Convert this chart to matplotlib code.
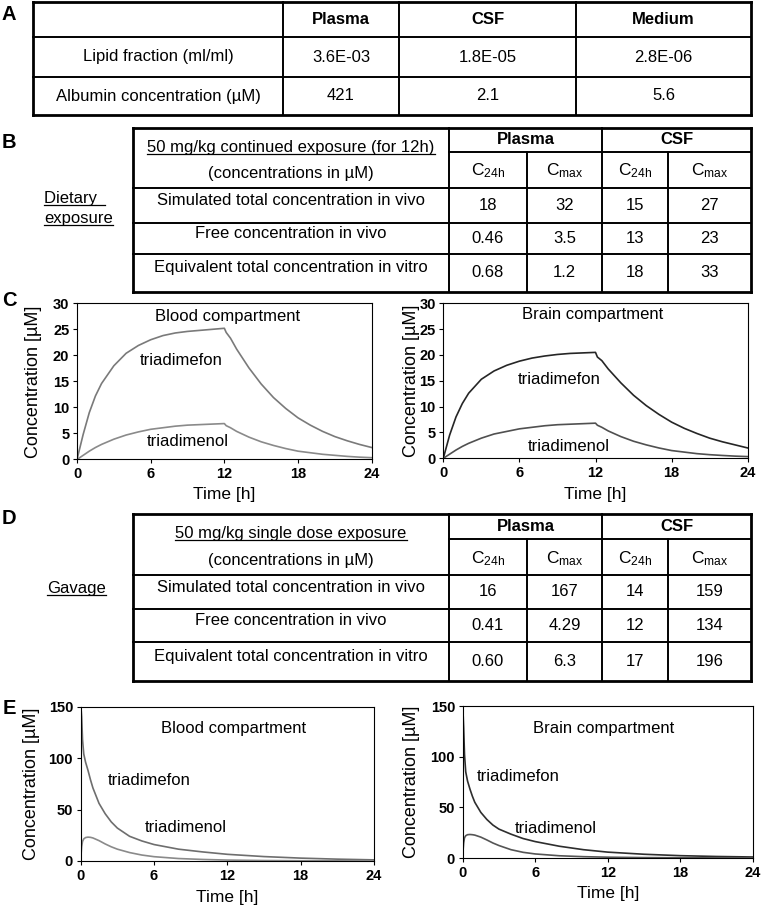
import matplotlib
matplotlib.use('Agg')
import matplotlib.pyplot as plt

plt.rcParams['font.family'] = ['Liberation Sans', 'DejaVu Sans']
plt.rcParams['mathtext.fontset'] = 'custom'
plt.rcParams['mathtext.rm'] = 'Liberation Sans'
plt.rcParams['mathtext.it'] = 'Liberation Sans:italic'
plt.rcParams['mathtext.bf'] = 'Liberation Sans:bold'

W, H = 761, 908

# ---- table A
a_cols = ['Plasma', 'CSF', 'Medium']
a_rows = ['Lipid fraction (ml/ml)', 'Albumin concentration (µM)']
a_vals = [['3.6E-03', '1.8E-05', '2.8E-06'],
          ['421', '2.1', '5.6']]

# ---- tables B and D
bd_groups = ['Plasma', 'CSF']
bd_sub = [r'C$_{\mathrm{24h}}$', r'C$_{\mathrm{max}}$', r'C$_{\mathrm{24h}}$', r'C$_{\mathrm{max}}$']
bd_unit = '(concentrations in µM)'
bd_rows = ['Simulated total concentration in vivo',
           'Free concentration in vivo',
           'Equivalent total concentration in vitro']
b_title = '50 mg/kg continued exposure (for 12h)'
b_side = ['Dietary ', 'exposure']
b_vals = [['18', '32', '15', '27'],
          ['0.46', '3.5', '13', '23'],
          ['0.68', '1.2', '18', '33']]
d_title = '50 mg/kg single dose exposure'
d_side = ['Gavage']
d_vals = [['16', '167', '14', '159'],
          ['0.41', '4.29', '12', '134'],
          ['0.60', '6.3', '17', '196']]

# ---- C: 12 h continued exposure
c_time = [0, 0.5, 1, 1.5, 2, 3, 4, 5, 6, 7, 8, 9, 10, 11, 12, 12.15, 12.5, 13,
          14, 15, 16, 17, 18, 19, 20, 21, 22, 23, 24]
c_blood_fon = [0, 4.8, 9.0, 12.2, 14.6, 18.0, 20.4, 21.9, 23.0, 23.8, 24.3, 24.6, 24.8,
               25.0, 25.2, 24.4, 23.3, 21.2, 17.6, 14.5, 11.9, 9.8, 8.0, 6.6, 5.4, 4.4,
               3.6, 2.9, 2.3]
c_blood_nol = [0, 0.8, 1.6, 2.3, 2.9, 3.9, 4.7, 5.3, 5.8, 6.1, 6.4, 6.6, 6.7, 6.8, 6.9,
               6.5, 6.1, 5.4, 4.3, 3.4, 2.7, 2.1, 1.6, 1.3, 1.0, 0.8, 0.6, 0.45, 0.35]
c_brain_fon = [0, 4.5, 8.0, 10.6, 12.6, 15.3, 16.9, 18.0, 18.8, 19.4, 19.8, 20.1, 20.3,
               20.4, 20.5, 19.6, 18.9, 17.3, 14.6, 12.2, 10.2, 8.5, 7.0, 5.8, 4.8, 3.9,
               3.2, 2.6, 2.0]
c_brain_nol = [0, 0.8, 1.6, 2.3, 2.9, 3.9, 4.7, 5.2, 5.7, 6.0, 6.3, 6.5, 6.6, 6.7, 6.8,
               6.4, 6.0, 5.3, 4.2, 3.3, 2.6, 2.0, 1.5, 1.2, 0.9, 0.7, 0.55, 0.42, 0.33]

# ---- E: single gavage dose
e_time = [0, 0.04, 0.08, 0.15, 0.25, 0.4, 0.6, 0.8, 1, 1.5, 2, 2.5, 3, 4, 5, 6, 8, 10,
          12, 15, 18, 21, 24]
e_blood_fon = [0, 146, 140, 118, 104, 96, 88, 79, 71, 56, 46, 38, 32, 24, 19.5, 16,
               11.5, 8.8, 6.5, 4.3, 2.8, 1.8, 1.1]
e_blood_nol = [0, 8, 14, 19, 21.5, 22.8, 23.2, 23.0, 22.4, 19.8, 16.6, 13.8, 11.5, 8.2,
               5.8, 4.2, 2.4, 1.5, 0.9, 0.45, 0.25, 0.15, 0.1]
e_brain_fon = [0, 140, 128, 102, 85, 76, 68, 61, 55, 45, 38, 32.5, 28.5, 23.5, 19.2,
               16.2, 11.6, 8.2, 5.8, 3.7, 2.3, 1.5, 1.0]
e_brain_nol = [0, 9, 15, 20, 22, 23, 23.2, 23.0, 22.6, 20.6, 17.8, 14.8, 12.3, 8.2, 5.6,
               4.0, 2.2, 1.3, 0.8, 0.4, 0.22, 0.13, 0.08]

time_ticks = [0, 6, 12, 18, 24]

fig = plt.figure(figsize=(W / 100, H / 100), dpi=100)
bg = fig.add_axes([0, 0, 1, 1])
bg.set_xlim(0, W)
bg.set_ylim(H, 0)
bg.axis('off')

OUT = 2.0   # outer frame width (pt)
INN = 1.4   # inner grid width (pt)
FS = 12


def hl(y, x0, x1, lw=INN):
    bg.plot([x0, x1], [y, y], color='black', lw=lw, solid_capstyle='projecting')


def vl(x, y0, y1, lw=INN):
    bg.plot([x, x], [y0, y1], color='black', lw=lw, solid_capstyle='projecting')


def box(x0, y0, x1, y1):
    hl(y0, x0, x1, OUT)
    hl(y1, x0, x1, OUT)
    vl(x0, y0, y1, OUT)
    vl(x1, y0, y1, OUT)


def underlined(x, y, s, ha='center', extra=0):
    # y is the text centre; text is put on its baseline and underlined just below
    t = bg.text(x, y + 6, s, ha=ha, va='baseline', fontsize=FS)
    bb = t.get_window_extent(renderer=fig.canvas.get_renderer())
    x0 = bg.transData.inverted().transform((bb.x0, 0))[0]
    x1 = bg.transData.inverted().transform((bb.x1, 0))[0]
    bg.plot([x0, x1 + extra], [y + 8, y + 8], color='black', lw=0.9)


# panel letters
for letter, ly in zip('ABCDE', [14, 143, 300, 518, 708]):
    bg.text(9, ly, letter, fontsize=14.5, fontweight='bold', ha='center', va='center')

# ---------------- table A
axs = [33, 283, 399, 576, 751]
ays = [2, 37, 77, 115]
box(axs[0], ays[0], axs[-1], ays[-1])
for x in axs[1:-1]:
    vl(x, ays[0], ays[-1])
for y in ays[1:-1]:
    hl(y, axs[0], axs[-1])
for j, c in enumerate(a_cols):
    bg.text((axs[j + 1] + axs[j + 2]) / 2, (ays[0] + ays[1]) / 2, c, fontsize=FS,
            fontweight='bold', ha='center', va='center')
for i, r in enumerate(a_rows):
    yc = (ays[i + 1] + ays[i + 2]) / 2
    bg.text((axs[0] + axs[1]) / 2, yc, r, fontsize=FS, ha='center', va='center')
    for j, v in enumerate(a_vals[i]):
        bg.text((axs[j + 1] + axs[j + 2]) / 2, yc, v, fontsize=FS, ha='center', va='center')

# ---------------- tables B and D
bxs = [133, 449, 527, 602, 668, 751]


def dose_table(ys, title, vals):
    box(bxs[0], ys[0], bxs[-1], ys[-1])
    vl(bxs[1], ys[0], ys[-1])
    vl(bxs[3], ys[0], ys[-1])
    vl(bxs[2], ys[1], ys[-1])
    vl(bxs[4], ys[1], ys[-1])
    hl(ys[1], bxs[1], bxs[-1])
    for y in ys[2:-1]:
        hl(y, bxs[0], bxs[-1])
    xc0 = (bxs[0] + bxs[1]) / 2
    underlined(xc0, ys[0] + 18, title)
    bg.text(xc0, ys[0] + 46, bd_unit, fontsize=FS, ha='center', va='center')
    for g, grp in enumerate(bd_groups):
        bg.text((bxs[1 + 2 * g] + bxs[3 + 2 * g]) / 2, (ys[0] + ys[1]) / 2, grp,
                fontsize=FS, fontweight='bold', ha='center', va='center')
    for j, s in enumerate(bd_sub):
        bg.text((bxs[j + 1] + bxs[j + 2]) / 2, (ys[1] + ys[2]) / 2 + 1, s,
                fontsize=FS + 0.5, ha='center', va='center')
    for i, r in enumerate(bd_rows):
        yc = (ys[i + 2] + ys[i + 3]) / 2
        bg.text(xc0, yc - 5, r, fontsize=FS, ha='center', va='center')
        for j, v in enumerate(vals[i]):
            bg.text((bxs[j + 1] + bxs[j + 2]) / 2, yc, v, fontsize=FS,
                    ha='center', va='center')


dose_table([127.7, 151.7, 187.7, 222.7, 254, 291.7], b_title, b_vals)
underlined(44, 196.7, b_side[0], ha='left', extra=3)
underlined(44, 216.7, b_side[1], ha='left')

dose_table([514.3, 539.3, 575, 609, 641.7, 680.7], d_title, d_vals)
underlined(47, 587, d_side[0], ha='left')


# ---------------- curve panels
def panel(l, t, r, b, ymax, ystep, ylab_right, xlab_top):
    ax = fig.add_axes([l / W, 1 - b / H, (r - l) / W, (b - t) / H])
    ax.set_xlim(0, 24)
    ax.set_ylim(0, ymax)
    yt = list(range(0, ymax + 1, ystep))
    ax.set_xticks(time_ticks, labels=[str(v) for v in time_ticks], fontweight='bold')
    ax.set_yticks(yt, labels=[str(v) for v in yt], fontweight='bold')
    ax.tick_params(direction='out', length=3, width=0.8, pad=2.5, labelsize=10.5)
    for s in ax.spines.values():
        s.set_linewidth(0.8)
    ax.set_ylabel('Concentration [µM]', fontsize=13)
    ax.set_xlabel('Time [h]', fontsize=12.5)
    ax.yaxis.set_label_coords((ylab_right - l) / (r - l), 0.5)
    ax.xaxis.set_label_coords(0.5, (b - xlab_top) / (b - t))
    return ax


ax1 = panel(77, 303.3, 371.7, 459.5, 30, 5, 42, 487)
ax1.plot(c_time, c_blood_fon, color='#7a7a7a', lw=1.2)
ax1.plot(c_time, c_blood_nol, color='#8a8a8a', lw=1.2)
ax1.text(12.3, 27.4, 'Blood compartment', fontsize=12, ha='center', va='center')
ax1.text(8.5, 19.1, 'triadimefon', fontsize=12, ha='center', va='center')
ax1.text(9.0, 3.4, 'triadimenol', fontsize=12, ha='center', va='center')

ax2 = panel(443.3, 303.3, 747.7, 458.3, 30, 5, 419.5, 487)
ax2.plot(c_time, c_brain_fon, color='#262626', lw=1.2)
ax2.plot(c_time, c_brain_nol, color='#505050', lw=1.2)
ax2.text(11.8, 27.8, 'Brain compartment', fontsize=12, ha='center', va='center')
ax2.text(9.1, 15.2, 'triadimefon', fontsize=12, ha='center', va='center')
ax2.text(9.9, 2.2, 'triadimenol', fontsize=12, ha='center', va='center')

ax3 = panel(80.7, 706.7, 374, 861, 150, 50, 39.5, 890)
ax3.plot(e_time, e_blood_fon, color='#6e6e6e', lw=1.2)
ax3.plot(e_time, e_blood_nol, color='#8a8a8a', lw=1.2)
ax3.text(12.5, 129, 'Blood compartment', fontsize=12, ha='center', va='center')
ax3.text(5.6, 78.7, 'triadimefon', fontsize=12, ha='center', va='center')
ax3.text(8.6, 33, 'triadimenol', fontsize=12, ha='center', va='center')

ax4 = panel(462.7, 706, 752.7, 858, 150, 50, 420, 886)
ax4.plot(e_time, e_brain_fon, color='#2e2e2e', lw=1.2)
ax4.plot(e_time, e_brain_nol, color='#555555', lw=1.2)
ax4.text(11.7, 128, 'Brain compartment', fontsize=12, ha='center', va='center')
ax4.text(4.6, 80, 'triadimefon', fontsize=12, ha='center', va='center')
ax4.text(7.7, 29.6, 'triadimenol', fontsize=12, ha='center', va='center')

fig.savefig('out.png', dpi=100)
